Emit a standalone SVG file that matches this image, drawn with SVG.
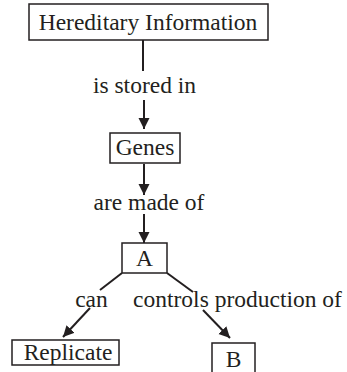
<svg xmlns="http://www.w3.org/2000/svg" width="347" height="372" viewBox="0 0 347 372">
<style>
.box{fill:#fff;stroke:#231f20;stroke-width:1.5}
.t{font-family:'Liberation Serif','Times New Roman',Times,serif;font-size:23.5px;fill:#231f20;text-anchor:middle}
.c{stroke:#231f20;stroke-width:2;fill:none}
</style>
<defs>
<marker id="ah" markerUnits="userSpaceOnUse" markerWidth="12" markerHeight="12" refX="11" refY="6" orient="auto" viewBox="0 0 12 12">
<path d="M0,0.5 L11,6 L0,11.5 z" fill="#231f20"/>
</marker>
</defs>
<rect width="347" height="372" fill="#fff"/>
<g id="connectors">
<line class="c" x1="143" y1="40" x2="143" y2="71"/>
<line class="c" x1="144" y1="100" x2="144" y2="129" marker-end="url(#ah)"/>
<line class="c" x1="144" y1="164" x2="144" y2="195" marker-end="url(#ah)"/>
<line class="c" x1="144" y1="214" x2="144" y2="243" marker-end="url(#ah)"/>
<line class="c" x1="122" y1="273" x2="100" y2="290"/>
<line class="c" x1="90" y1="308" x2="63" y2="337" marker-end="url(#ah)"/>
<line class="c" x1="167" y1="273" x2="193" y2="292"/>
<line class="c" x1="203" y1="310" x2="230" y2="338" marker-end="url(#ah)"/>
<text class="t" font-family="Liberation Serif, serif" x="144.5" y="93">is stored in</text>
<text class="t" font-family="Liberation Serif, serif" x="149" y="210">are made of</text>
<text class="t" font-family="Liberation Serif, serif" x="91.5" y="307">can</text>
<text class="t" font-family="Liberation Serif, serif" x="237.5" y="307">controls production of</text>
</g>
<g id="hereditary">
<rect class="box" x="29" y="4" width="239" height="36"/>
<text class="t" font-family="Liberation Serif, serif" x="148" y="30">Hereditary Information</text>
</g>
<g id="genes">
<rect class="box" x="110" y="133" width="70" height="30"/>
<text class="t" font-family="Liberation Serif, serif" x="145" y="155">Genes</text>
</g>
<g id="a">
<rect class="box" x="122" y="243" width="45" height="30"/>
<text class="t" font-family="Liberation Serif, serif" x="144.5" y="266">A</text>
</g>
<g id="replicate">
<rect class="box" x="12" y="340" width="107" height="25"/>
<text class="t" font-family="Liberation Serif, serif" x="68" y="360">Replicate</text>
</g>
<g id="b">
<rect class="box" x="212" y="343" width="43" height="32"/>
<text class="t" font-family="Liberation Serif, serif" x="233.5" y="367">B</text>
</g>
</svg>
